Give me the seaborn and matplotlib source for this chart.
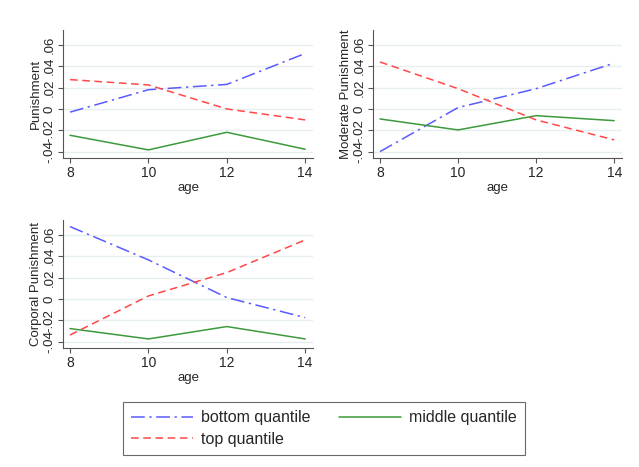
import numpy as np
import pandas as pd
import seaborn as sns
import matplotlib.pyplot as plt
from matplotlib.lines import Line2D

ages = [8, 10, 12, 14]
series_names = ["bottom quantile", "middle quantile", "top quantile"]

pun_bottom = [-0.003, 0.018, 0.023, 0.052]
pun_middle = [-0.0247, -0.0384, -0.0219, -0.0378]
pun_top = [0.0275, 0.0225, 0.0, -0.0103]

mod_bottom = [-0.040, 0.0013, 0.019, 0.043]
mod_middle = [-0.0094, -0.0197, -0.0063, -0.011]
mod_top = [0.044, 0.019, -0.0103, -0.029]

cor_bottom = [0.0678, 0.0366, 0.0013, -0.0175]
cor_middle = [-0.0278, -0.0375, -0.0259, -0.0375]
cor_top = [-0.0338, 0.0028, 0.0247, 0.0553]

ytick_vals = [-0.04, -0.02, 0, 0.02, 0.04, 0.06]
ytick_labels = ["-.04", "-.02", "0", ".02", ".04", ".06"]
xtick_vals = [8, 10, 12, 14]

panel_titles = ["Punishment", "Moderate Punishment", "Corporal Punishment"]
panel_data = [
    (pun_bottom, pun_middle, pun_top),
    (mod_bottom, mod_middle, mod_top),
    (cor_bottom, cor_middle, cor_top),
]

colors = {"bottom quantile": "#5a5aff", "middle quantile": "#3c9a3c", "top quantile": "#ff4848"}
dashes = {"bottom quantile": (9, 3, 1.5, 3), "middle quantile": "", "top quantile": (5, 3)}

sns.set_theme(style="white")
plt.rcParams['font.family'] = ['Liberation Sans', 'DejaVu Sans']

W, H = 639, 467
fig = plt.figure(figsize=(W / 100, H / 100), dpi=100)

boxes = [(63, 313, 30, 158), (373, 622, 30, 158), (63, 313, 220, 348)]

for (l, r, t, b), ylab, data in zip(boxes, panel_titles, panel_data):
    ax = fig.add_axes([l / W, 1 - b / H, (r - l) / W, (b - t) / H])
    rows = []
    for name, vals in zip(series_names, data):
        for a, v in zip(ages, vals):
            rows.append({"age": a, "value": v, "series": name})
    df = pd.DataFrame(rows)
    for y in ytick_vals:
        ax.axhline(y, color="#e6eeef", lw=1.0, zorder=0)
    sns.lineplot(data=df, x="age", y="value", hue="series", style="series",
                 palette=colors, dashes=dashes, hue_order=series_names,
                 style_order=series_names, ax=ax, lw=1.1, legend=False)
    ax.set_xlim(7.82, 14.2)
    ax.set_ylim(-0.046, 0.074)
    ax.set_xticks(xtick_vals)
    ax.set_xticklabels([str(x) for x in xtick_vals], fontsize=10)
    ax.set_yticks(ytick_vals)
    ax.set_yticklabels(ytick_labels, rotation=90, va="center", fontsize=9.5)
    ax.set_xlabel("age", fontsize=9.5, labelpad=2)
    ax.set_ylabel(ylab, fontsize=9.5, labelpad=1)
    for s in ["top", "right"]:
        ax.spines[s].set_visible(False)
    for s in ["left", "bottom"]:
        ax.spines[s].set_color("#555555")
        ax.spines[s].set_linewidth(0.8)
    ax.tick_params(axis="both", which="both", direction="out", length=3.5,
                   width=0.8, color="#555555", pad=2, left=True, bottom=True)
    ax.grid(False)

# legend
handles = [Line2D([0], [0], color=colors[n], lw=1.1,
                  dashes=dashes[n] if dashes[n] else (None, None)) for n in series_names]
leg = fig.legend([handles[i] for i in [0, 2, 1]], [series_names[i] for i in [0, 2, 1]],
                 ncol=2, loc="center", bbox_to_anchor=(324 / W, 1 - 428.5 / H),
                 frameon=True, fancybox=False, edgecolor="#444444", fontsize=11.5,
                 handlelength=3.9, columnspacing=1.75, handletextpad=0.5,
                 borderpad=0.5, labelspacing=0.4, borderaxespad=0)
leg.get_frame().set_linewidth(0.8)

fig.savefig("out.png", dpi=100, facecolor="white")
